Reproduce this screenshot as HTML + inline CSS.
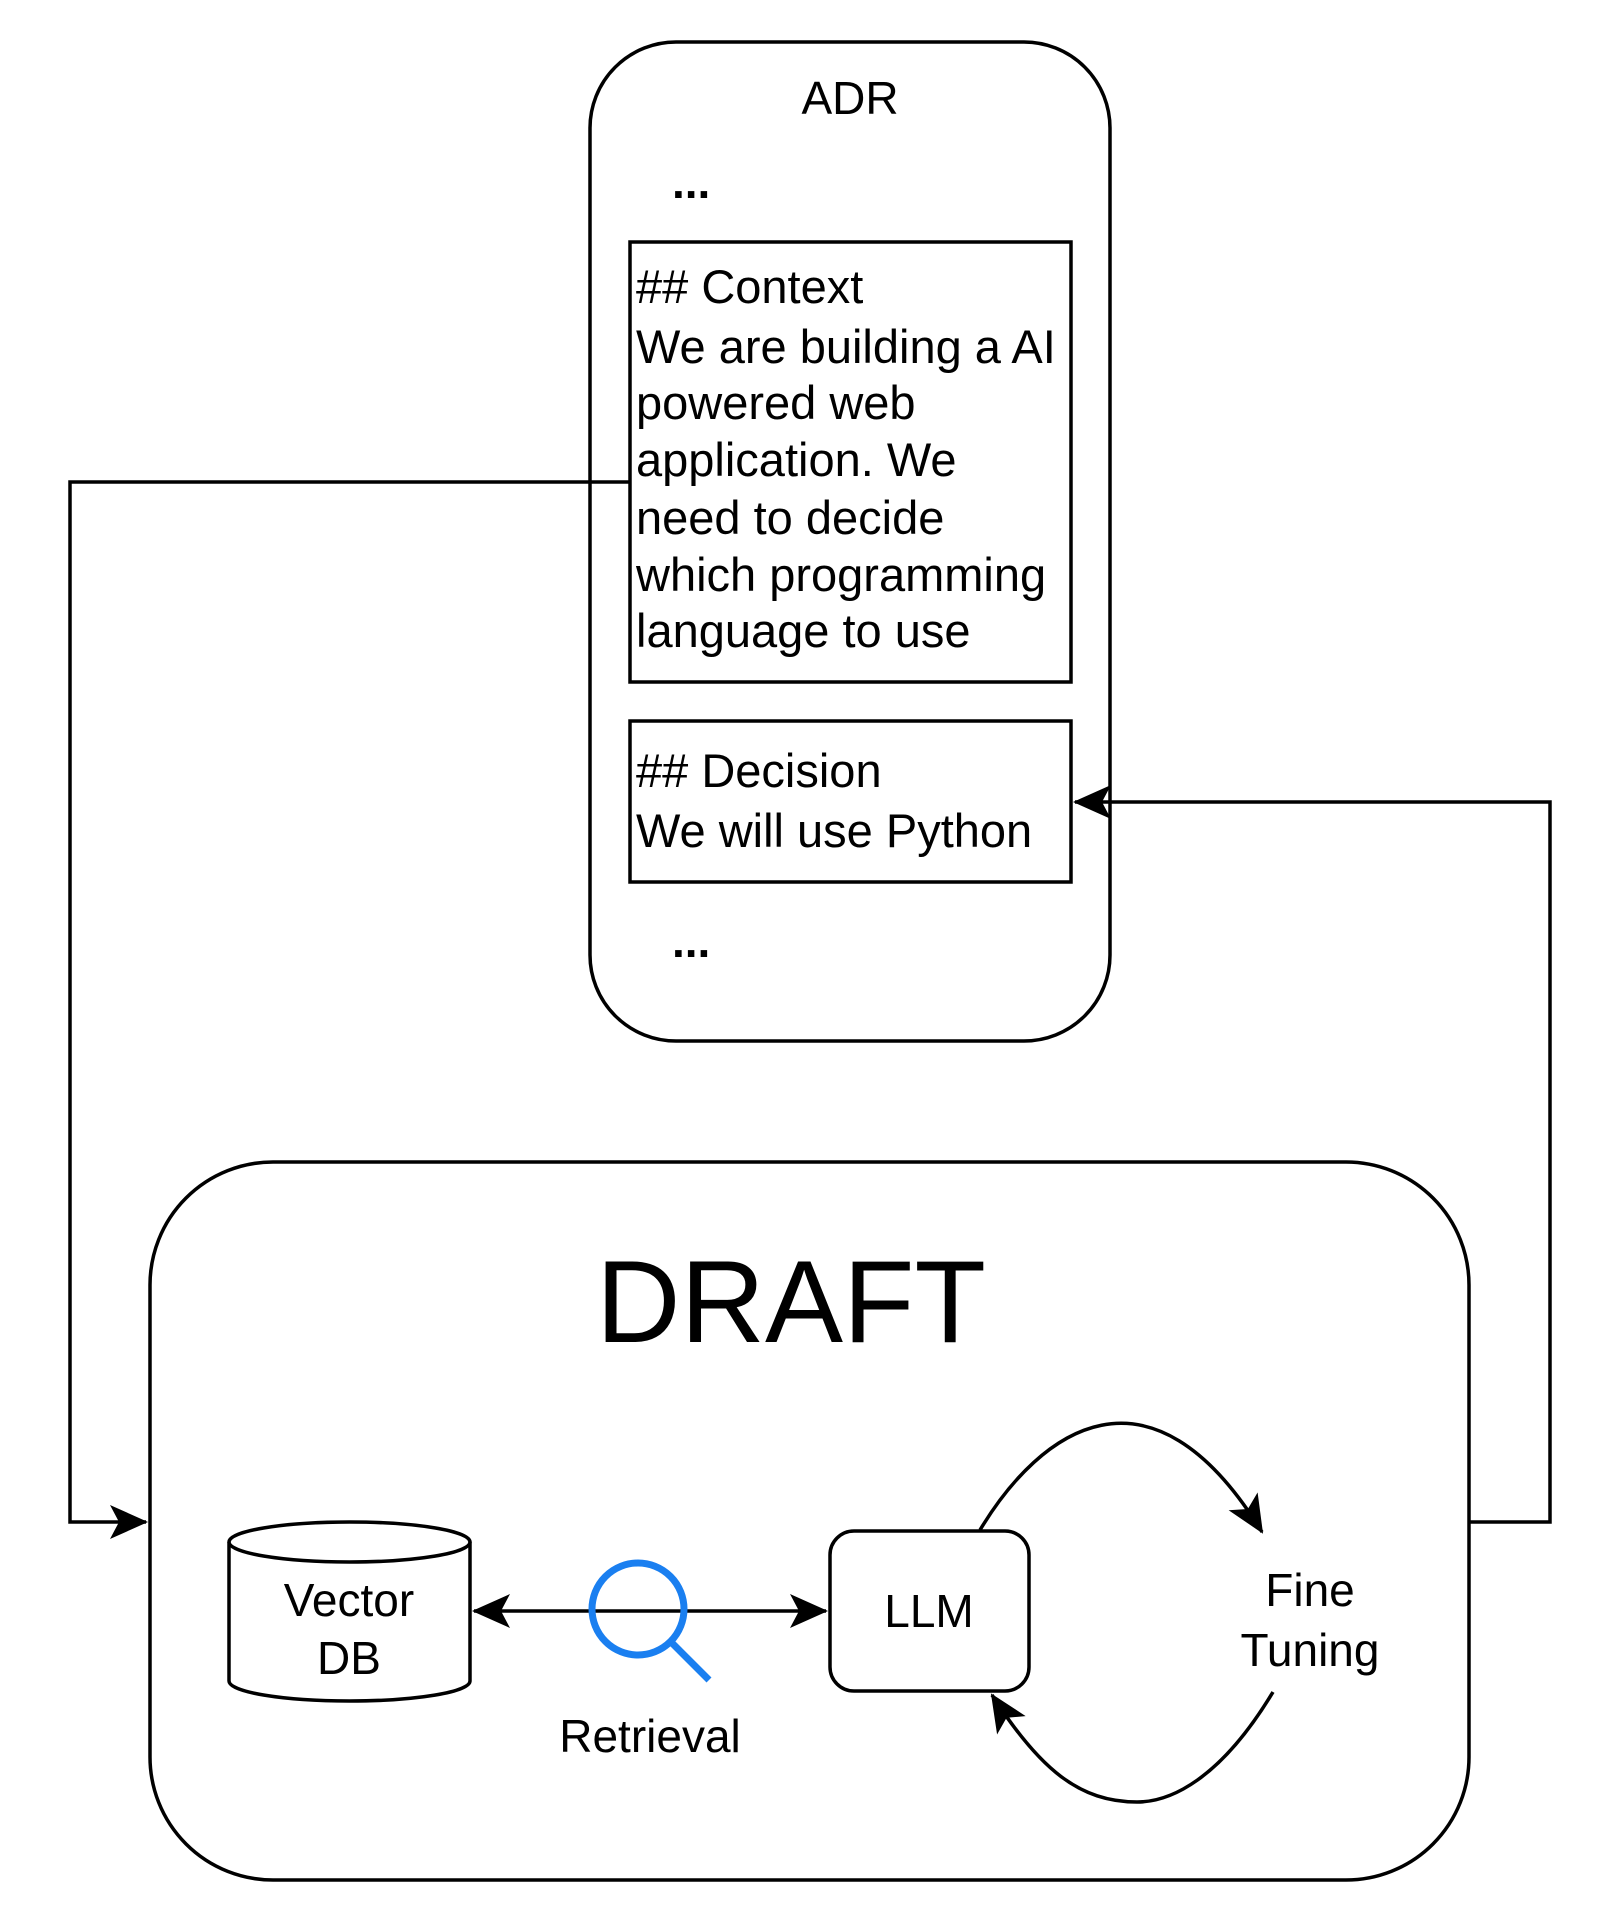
<!DOCTYPE html>
<html><head><meta charset="utf-8"><style>
html,body{margin:0;padding:0;background:#fff;}
svg{display:block;}
text{font-family:"Liberation Sans",Arial,sans-serif;fill:#000;}
</style></head><body>
<svg width="1624" height="1924" viewBox="0 0 1624 1924" xmlns="http://www.w3.org/2000/svg">
<defs>
<marker id="b" markerWidth="40" markerHeight="34" refX="36" refY="17" orient="auto" markerUnits="userSpaceOnUse" viewBox="0 0 40 34">
<path d="M0,0 L38,17 L0,34 L9,17 Z" fill="#000"/>
</marker>
<marker id="bs" markerWidth="40" markerHeight="34" refX="4" refY="17" orient="auto" markerUnits="userSpaceOnUse" viewBox="0 0 40 34">
<path d="M40,0 L2,17 L40,34 L31,17 Z" fill="#000"/>
</marker>
</defs>
<g fill="none" stroke="#000" stroke-width="3.5">
<rect x="590" y="42" width="520" height="999" rx="86" ry="86" fill="#fff"/>
<rect x="630" y="242" width="441" height="440" fill="#fff"/>
<rect x="630" y="721" width="441" height="161" fill="#fff"/>
<rect x="150" y="1162" width="1319" height="718" rx="123" ry="123"/>
<path d="M229,1542 L229,1681 A120.5,20 0 0 0 470,1681 L470,1542" fill="#fff"/>
<ellipse cx="349.5" cy="1542" rx="120.5" ry="20" fill="#fff"/>
<rect x="830" y="1531" width="199" height="160" rx="24" ry="24" fill="#fff"/>
<polyline points="629,482 70,482 70,1522 146,1522" marker-end="url(#b)"/>
<polyline points="1469,1522 1550,1522 1550,802 1075,802" marker-end="url(#b)"/>
<line x1="474" y1="1611" x2="826" y2="1611" marker-start="url(#bs)" marker-end="url(#b)"/>
<path d="M980,1530 C1040,1430 1150,1350 1262,1532" marker-end="url(#b)"/>
<path d="M1273,1692 C1220,1780 1170,1802 1137,1802 C1080,1802 1040,1770 992,1695" marker-end="url(#b)"/>
</g>
<circle cx="638" cy="1609" r="46" fill="none" stroke="#1a7ff0" stroke-width="7"/>
<line x1="672" y1="1643" x2="709" y2="1680" stroke="#1a7ff0" stroke-width="7"/>
<text x="850" y="114" font-size="46" text-anchor="middle">ADR</text>
<text x="672" y="198" font-size="46" font-weight="bold">...</text>
<text x="672" y="957" font-size="46" font-weight="bold">...</text>
<g font-size="47">
<text x="636" y="303">## Context</text>
<text x="636" y="363">We are building a AI</text>
<text x="636" y="419">powered web</text>
<text x="636" y="476">application. We</text>
<text x="636" y="534">need to decide</text>
<text x="636" y="591">which programming</text>
<text x="636" y="647">language to use</text>
<text x="636" y="787">## Decision</text>
<text x="636" y="847">We will use Python</text>
</g>
<text x="791" y="1342" font-size="117" text-anchor="middle">DRAFT</text>
<g font-size="46" text-anchor="middle">
<text x="349" y="1616">Vector</text>
<text x="349" y="1674">DB</text>
<text x="929" y="1627">LLM</text>
<text x="650" y="1752">Retrieval</text>
<text x="1310" y="1606">Fine</text>
<text x="1310" y="1666">Tuning</text>
</g>
</svg>
</body></html>
